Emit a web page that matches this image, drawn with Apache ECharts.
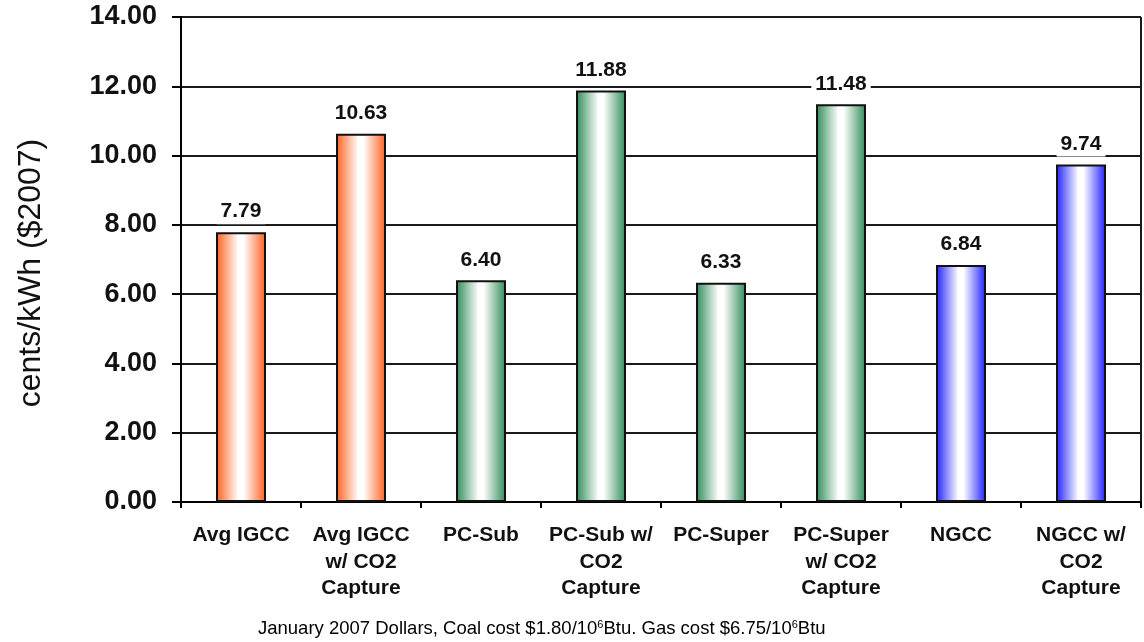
<!DOCTYPE html>
<html><head><meta charset="utf-8">
<script src="https://cdn.jsdelivr.net/npm/echarts@6/dist/echarts.min.js"></script>
<style>html,body{margin:0;padding:0;background:#fff}#c{width:1144px;height:642px}</style>
</head><body><div id="c"></div>
<script>
const categories = ["Avg IGCC", "Avg IGCC\nw/ CO2\nCapture", "PC-Sub", "PC-Sub w/\nCO2\nCapture", "PC-Super", "PC-Super\nw/ CO2\nCapture", "NGCC", "NGCC w/\nCO2\nCapture"];
const values = [7.79, 10.63, 6.40, 11.88, 6.33, 11.48, 6.84, 9.74];
const barColors = ["#FF5F1F", "#FF5F1F", "#2E8B57", "#2E8B57", "#2E8B57", "#2E8B57", "#2020FF", "#2020FF"];
const yTicks = [0, 2, 4, 6, 8, 10, 12, 14];

function grad(c) {
  return new echarts.graphic.LinearGradient(0, 0, 1, 0, [
    {offset: 0, color: c}, {offset: 0.45, color: '#ffffff'}, {offset: 0.55, color: '#ffffff'}, {offset: 1, color: c}
  ]);
}
const F = 'Liberation Sans, Arial';
const chart = echarts.init(document.getElementById('c'));
chart.setOption({
  animation: false,
  backgroundColor: '#fff',
  grid: {left: 181, right: 3, top: 17, bottom: 140},
  xAxis: {
    type: 'category', data: categories,
    axisLine: {lineStyle: {color: '#000', width: 2}},
    axisTick: {show: true, length: 6, lineStyle: {color: '#000', width: 2}},
    axisLabel: {color: '#111', fontFamily: F, fontWeight: 'bold', fontSize: 21, lineHeight: 26.5, margin: 20, interval: 0}
  },
  yAxis: {
    type: 'value', min: yTicks[0], max: yTicks[yTicks.length - 1], interval: 2,
    axisLine: {show: true, lineStyle: {color: '#000', width: 2}},
    axisTick: {show: true, length: 9, lineStyle: {color: '#000', width: 2}},
    axisLabel: {formatter: v => v.toFixed(2), color: '#111', fontFamily: F, fontWeight: 'bold', fontSize: 27, margin: 24},
    splitLine: {show: true, lineStyle: {color: '#1a1a1a', width: 2}}
  },
  graphic: [
    {type: 'line', shape: {x1: 1141, y1: 17, x2: 1141, y2: 502}, style: {stroke: '#1a1a1a', lineWidth: 2}},
    {type: 'text', x: 31, y: 273, rotation: Math.PI / 2, style: {
      text: 'cents/kWh ($2007)', fontFamily: F, fontSize: 32, fill: '#111', align: 'center', verticalAlign: 'middle'}},
    {type: 'text', left: 258, top: 619, style: {
      text: '{n|January 2007 Dollars, Coal cost $1.80/10}{s|6}{n|Btu. Gas cost $6.75/10}{s|6}{n|Btu}',
      rich: {
        n: {fontFamily: F, fontSize: 18.5, color: '#111'},
        s: {fontFamily: F, fontSize: 11, color: '#111', verticalAlign: 'top'}
      }
    }}
  ],
  series: [{
    type: 'bar', barWidth: 50,
    data: values.map((v, i) => ({value: v, itemStyle: {color: grad(barColors[i])}})),
    itemStyle: {borderColor: '#111', borderWidth: 2},
    label: {show: true, position: 'top', distance: 8, formatter: p => p.value.toFixed(2),
      color: '#111', fontFamily: F, fontWeight: 'bold', fontSize: 21,
      backgroundColor: '#fff', padding: [2, 4]}
  }]
});
</script></body></html>
